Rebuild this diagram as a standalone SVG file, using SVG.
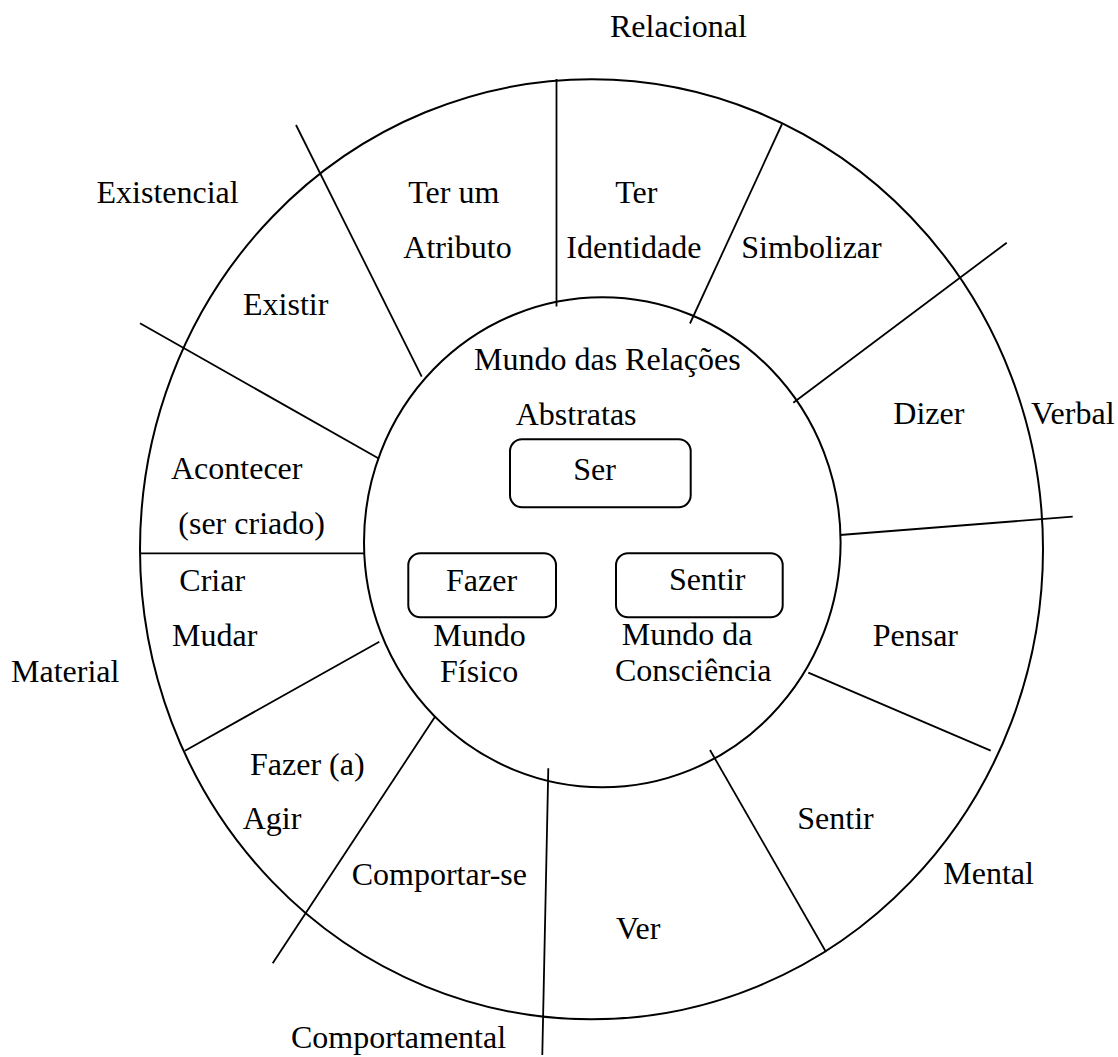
<svg xmlns="http://www.w3.org/2000/svg" width="1118" height="1057" viewBox="0 0 1118 1057">
<style>
  text { font-family: "Liberation Serif", "Times New Roman", serif; font-size: 32px; fill: #000; }
  .ring { fill: none; stroke: #000; stroke-width: 2; }
  .div { stroke: #000; stroke-width: 1.8; fill: none; }
  .box { fill: #fff; stroke: #000; stroke-width: 2; }
</style>
<rect x="0" y="0" width="1118" height="1057" fill="#fff"/>
<g id="rings">
  <ellipse class="ring" cx="591.5" cy="549.3" rx="451.5" ry="470"/>
  <ellipse class="ring" cx="602.3" cy="542.3" rx="238.3" ry="245"/>
</g>
<g id="connectors">
  <line class="div" x1="556.5" y1="79" x2="556.5" y2="306.5"/>
  <line class="div" x1="782" y1="124" x2="690" y2="323.5"/>
  <line class="div" x1="1006.7" y1="242.7" x2="793.3" y2="402.7"/>
  <line class="div" x1="1072.7" y1="516.7" x2="840" y2="535"/>
  <line class="div" x1="990.7" y1="750.7" x2="808.3" y2="672.7"/>
  <line class="div" x1="826" y1="952" x2="710" y2="750"/>
  <line class="div" x1="542.3" y1="1055" x2="548.3" y2="768.3"/>
  <line class="div" x1="272.7" y1="963.3" x2="435" y2="716.7"/>
  <line class="div" x1="185" y1="750.7" x2="379.3" y2="641.7"/>
  <line class="div" x1="140" y1="553.3" x2="365" y2="553.3"/>
  <line class="div" x1="140" y1="323.3" x2="378.3" y2="458.3"/>
  <line class="div" x1="296" y1="125" x2="421.7" y2="376.7"/>
</g>
<g id="center-ser">
  <rect class="box" x="510" y="439.3" width="180.7" height="68" rx="12"/>
  <text x="573.3" y="480">Ser</text>
</g>
<g id="center-fazer">
  <rect class="box" x="408.3" y="553.3" width="147.7" height="64" rx="12"/>
  <text x="446" y="591">Fazer</text>
</g>
<g id="center-sentir">
  <rect class="box" x="616" y="553.3" width="166.7" height="64" rx="12"/>
  <text x="669" y="590">Sentir</text>
</g>
<g id="world-labels">
  <text x="474" y="370">Mundo das Relações</text>
  <text x="515.7" y="425">Abstratas</text>
  <text x="433.3" y="646">Mundo</text>
  <text x="440" y="682">Físico</text>
  <text x="621.7" y="645">Mundo da</text>
  <text x="615" y="681">Consciência</text>
</g>
<g id="segment-labels">
  <text x="408.3" y="203.3">Ter um</text>
  <text x="403.3" y="258.3">Atributo</text>
  <text x="615.2" y="203.3">Ter</text>
  <text x="566.3" y="258.3">Identidade</text>
  <text x="741.3" y="258.3">Simbolizar</text>
  <text x="243" y="315">Existir</text>
  <text x="893.3" y="424">Dizer</text>
  <text x="171" y="479">Acontecer</text>
  <text x="178.3" y="534">(ser criado)</text>
  <text x="179.3" y="591">Criar</text>
  <text x="172" y="646">Mudar</text>
  <text x="872.7" y="646">Pensar</text>
  <text x="250" y="774.5">Fazer (a)</text>
  <text x="242.7" y="829.3">Agir</text>
  <text x="797.3" y="829.3">Sentir</text>
  <text x="351.7" y="884.5">Comportar-se</text>
  <text x="616" y="939.3">Ver</text>
</g>
<g id="process-labels">
  <text x="610" y="37.3">Relacional</text>
  <text x="96.5" y="203.3">Existencial</text>
  <text x="1031" y="424">Verbal</text>
  <text x="11" y="681.7">Material</text>
  <text x="943.3" y="884">Mental</text>
  <text x="291" y="1048.3">Comportamental</text>
</g>
</svg>
